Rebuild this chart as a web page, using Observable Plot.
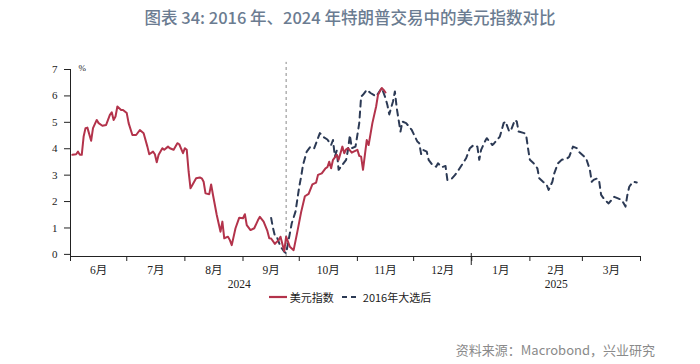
<!DOCTYPE html>
<html>
<head>
<meta charset="utf-8">
<script src="https://cdn.jsdelivr.net/npm/d3@7"></script>
<script src="https://cdn.jsdelivr.net/npm/@observablehq/plot@0.6"></script>
<style>
  body { margin: 0; background: #fff; width: 700px; height: 364px; position: relative; overflow: hidden; }
  #title { position: absolute; top: 6px; left: 0; width: 700px; text-align: center; font-family: "Noto Sans CJK SC", "Noto Sans", sans-serif; font-size: 16.5px; font-weight: 500; color: #6b7c91; line-height: 22px; }
  #chart { position: absolute; top: 40px; left: 0; }
  #legend { position: absolute; top: 289px; left: 0; width: 700px; display: flex; justify-content: center; align-items: center; font-family: "Noto Sans CJK SC", sans-serif; font-size: 11px; color: #222; }
  #legend .item { display: flex; align-items: center; margin: 0 4px; }
  #legend svg { margin-right: 3px; }
  #source { position: absolute; top: 340px; right: 45px; font-family: "Noto Sans CJK SC", sans-serif; font-size: 13px; color: #8a8a8a; }
</style>
</head>
<body>
<div id="title">图表 34: 2016 年、2024 年特朗普交易中的美元指数对比</div>
<div id="chart"></div>
<div id="legend"></div>
<div id="source">资料来源：Macrobond，兴业研究</div>
<script>
// ---- Data ----
const usdDates = ["2024-06-02","2024-06-04","2024-06-05","2024-06-06","2024-06-07","2024-06-08","2024-06-09","2024-06-10","2024-06-12","2024-06-13","2024-06-15","2024-06-16","2024-06-18","2024-06-20","2024-06-22","2024-06-23","2024-06-24","2024-06-25","2024-06-26","2024-06-28","2024-06-29","2024-07-01","2024-07-02","2024-07-04","2024-07-06","2024-07-08","2024-07-10","2024-07-12","2024-07-13","2024-07-15","2024-07-16","2024-07-17","2024-07-18","2024-07-20","2024-07-21","2024-07-23","2024-07-24","2024-07-26","2024-07-28","2024-07-29","2024-07-31","2024-08-01","2024-08-02","2024-08-03","2024-08-04","2024-08-05","2024-08-07","2024-08-09","2024-08-10","2024-08-11","2024-08-12","2024-08-14","2024-08-15","2024-08-16","2024-08-18","2024-08-20","2024-08-21","2024-08-22","2024-08-24","2024-08-25","2024-08-26","2024-08-28","2024-08-30","2024-09-01","2024-09-02","2024-09-03","2024-09-05","2024-09-07","2024-09-09","2024-09-10","2024-09-12","2024-09-14","2024-09-15","2024-09-16","2024-09-18","2024-09-20","2024-09-21","2024-09-23","2024-09-24","2024-09-26","2024-09-28","2024-09-30","2024-10-02","2024-10-04","2024-10-06","2024-10-08","2024-10-10","2024-10-11","2024-10-13","2024-10-15","2024-10-16","2024-10-17","2024-10-18","2024-10-19","2024-10-21","2024-10-22","2024-10-24","2024-10-25","2024-10-26","2024-10-27","2024-10-29","2024-10-30","2024-11-01","2024-11-02","2024-11-03","2024-11-04","2024-11-06","2024-11-07","2024-11-09","2024-11-11","2024-11-12","2024-11-14","2024-11-15","2024-11-16"];
const usdValues = [3.77,3.79,3.89,3.77,3.77,4.46,4.78,4.80,4.30,4.78,5.09,4.97,4.87,4.90,5.28,5.38,5.09,5.22,5.60,5.47,5.47,5.35,4.97,4.52,4.52,4.71,4.59,4.08,3.79,3.89,3.79,3.49,3.77,4.02,3.96,4.08,4.02,3.96,4.21,4.17,3.83,4.02,3.96,3.13,2.50,2.63,2.88,2.91,2.88,2.75,2.31,2.28,2.65,2.25,1.49,0.86,1.24,0.61,0.67,0.54,0.35,0.99,1.39,1.37,1.52,1.11,0.92,0.99,1.30,1.42,1.24,0.89,0.61,0.60,0.40,0.54,0.67,0.12,0.67,0.29,0.16,0.86,1.60,2.20,2.29,2.65,2.72,3.01,3.07,3.26,3.30,3.51,3.26,3.58,3.77,3.58,4.08,3.83,3.98,4.02,3.85,3.89,3.96,3.73,3.70,3.20,4.33,4.14,4.97,5.60,6.04,6.30,6.23,6.13];

const dates2016 = ["2024-09-16","2024-09-17","2024-09-18","2024-09-19","2024-09-21","2024-09-23","2024-09-24","2024-09-26","2024-09-27","2024-09-29","2024-10-01","2024-10-02","2024-10-03","2024-10-05","2024-10-07","2024-10-09","2024-10-11","2024-10-12","2024-10-14","2024-10-16","2024-10-18","2024-10-19","2024-10-20","2024-10-21","2024-10-22","2024-10-24","2024-10-26","2024-10-27","2024-10-28","2024-10-29","2024-10-31","2024-11-01","2024-11-02","2024-11-03","2024-11-04","2024-11-06","2024-11-08","2024-11-11","2024-11-14","2024-11-16","2024-11-17","2024-11-18","2024-11-20","2024-11-21","2024-11-22","2024-11-23","2024-11-24","2024-11-25","2024-11-27","2024-11-30","2024-12-03","2024-12-04","2024-12-05","2024-12-06","2024-12-08","2024-12-09","2024-12-11","2024-12-13","2024-12-14","2024-12-16","2024-12-18","2024-12-19","2024-12-21","2024-12-23","2024-12-25","2024-12-29","2024-12-31","2025-01-02","2025-01-04","2025-01-05","2025-01-06","2025-01-08","2025-01-09","2025-01-12","2025-01-13","2025-01-16","2025-01-18","2025-01-19","2025-01-21","2025-01-22","2025-01-24","2025-01-25","2025-01-26","2025-01-29","2025-01-30","2025-01-31","2025-02-01","2025-02-03","2025-02-05","2025-02-06","2025-02-08","2025-02-10","2025-02-11","2025-02-13","2025-02-14","2025-02-16","2025-02-18","2025-02-21","2025-02-22","2025-02-24","2025-02-26","2025-02-27","2025-03-02","2025-03-03","2025-03-05","2025-03-06","2025-03-07","2025-03-09","2025-03-10","2025-03-11","2025-03-13","2025-03-15","2025-03-18","2025-03-20","2025-03-22","2025-03-24","2025-03-25","2025-03-26","2025-03-28","2025-03-30"];
const values2016 = [1.38,1.00,0.70,0.67,0.30,0.10,0.04,0.80,1.18,1.62,2.56,2.94,3.39,3.89,4.08,4.02,4.40,4.59,4.44,4.35,4.14,4.33,3.70,3.93,3.20,3.39,3.58,3.96,4.52,4.02,4.08,4.52,4.97,5.98,6.04,6.23,6.11,5.98,6.30,5.92,5.66,5.30,5.79,6.17,5.54,5.09,4.65,5.03,4.97,4.71,4.27,4.21,3.80,3.96,3.89,3.58,3.39,3.32,3.45,3.30,3.35,2.82,2.84,3.00,3.20,3.64,4.02,4.14,4.08,3.58,3.96,4.27,4.40,4.14,4.21,4.46,4.97,5.03,4.65,4.71,5.09,5.03,4.65,4.59,4.52,4.02,3.58,3.45,3.26,2.88,2.75,2.63,2.44,2.75,3.07,3.45,3.58,3.64,3.70,4.08,4.02,3.89,3.70,3.64,3.20,2.75,2.82,2.88,2.75,2.25,2.06,1.93,2.18,2.12,2.06,1.81,2.25,2.56,2.75,2.72];

const monthLabels = ["6月","7月","8月","9月","10月","11月","12月","1月","2月","3月"];
const yearLabels = ["2024","2025"];
const yTicks = [0,1,2,3,4,5,6,7];
const electionMarker = "2024-09-24";
const seriesNames = ["美元指数","2016年大选后"];

// ---- Build tables ----
const parse = d3.utcParse("%Y-%m-%d");
const usd = usdDates.map((d,i) => ({date: parse(d), value: usdValues[i]}));
const s2016 = dates2016.map((d,i) => ({date: parse(d), value: values2016[i]}));
const xStart = parse("2024-06-01"), xEnd = parse("2025-04-01");
const monthStarts = d3.utcMonth.range(xStart, d3.utcDay.offset(xEnd, 1));
const monthMid = monthLabels.map((m,i) => ({
  label: m,
  date: new Date((+monthStarts[i] + +monthStarts[i+1]) / 2)
}));
const yearData = [
  {label: yearLabels[0], date: parse("2024-08-30")},
  {label: yearLabels[1], date: parse("2025-02-15")}
];
const yearTick = [parse("2025-01-01")];

const RED = "#b3334b", NAVY = "#2c3a55";
const Y0 = -0.08;

const chart = Plot.plot({
  width: 700,
  height: 250,
  marginLeft: 70,
  marginRight: 60,
  marginTop: 29,
  marginBottom: 34,
  style: {fontFamily: "'Liberation Serif', 'Noto Sans CJK SC', serif", fontSize: "11px", color: "#222", background: "#fff"},
  x: {type: "utc", domain: [xStart, xEnd]},
  y: {domain: [Y0, 7]},
  marks: [
    Plot.ruleY([Y0], {stroke: "#222", strokeWidth: 1}),
    Plot.ruleX([xStart], {y1: Y0, y2: 7, stroke: "#222", strokeWidth: 1}),
    Plot.axisY({ticks: yTicks, tickSize: 6, tickPadding: 7, tickFormat: d3.format("d"), stroke: "#222", label: null}),
    Plot.axisX({ticks: monthStarts, tickSize: 5, tickFormat: () => "", stroke: "#222", label: null}),
    Plot.text(["%"], {x: xStart, y: 7, dx: 8, dy: -1, textAnchor: "start", fontSize: 9}),
    Plot.text(monthMid, {x: "date", y: Y0, text: "label", dy: 14, fontSize: 11.5}),
    Plot.text(yearData, {x: "date", y: Y0, text: "label", dy: 28, fontSize: 11.5}),
    Plot.ruleX([parse(electionMarker)], {y1: Y0, y2: 7.27, stroke: "#8a8a8a", strokeWidth: 1, strokeDasharray: "3,3"}),
    Plot.line(s2016, {x: "date", y: "value", stroke: NAVY, strokeWidth: 2, strokeDasharray: "6,5"}),
    Plot.line(usd, {x: "date", y: "value", stroke: RED, strokeWidth: 2})
  ]
});
// longer year-boundary tick
const xs = chart.scale("x"), ys = chart.scale("y");
const svgNS = "http://www.w3.org/2000/svg";
const ln = document.createElementNS(svgNS, "line");
ln.setAttribute("x1", xs.apply(yearTick[0])); ln.setAttribute("x2", xs.apply(yearTick[0]));
ln.setAttribute("y1", ys.apply(Y0) - 3); ln.setAttribute("y2", ys.apply(Y0) + 9);
ln.setAttribute("stroke", "#222");
chart.appendChild(ln);
document.getElementById("chart").appendChild(chart);

// ---- Legend ----
const legend = document.getElementById("legend");
const styles = [{stroke: RED, dash: null}, {stroke: NAVY, dash: "5,4"}];
seriesNames.forEach((name, i) => {
  const item = document.createElement("div");
  item.className = "item";
  item.innerHTML = `<svg width="18" height="8"><line x1="0" y1="4" x2="18" y2="4" stroke="${styles[i].stroke}" stroke-width="2.2" ${styles[i].dash ? `stroke-dasharray="${styles[i].dash}"` : ""}/></svg><span>${name}</span>`;
  legend.appendChild(item);
});
</script>
</body>
</html>
